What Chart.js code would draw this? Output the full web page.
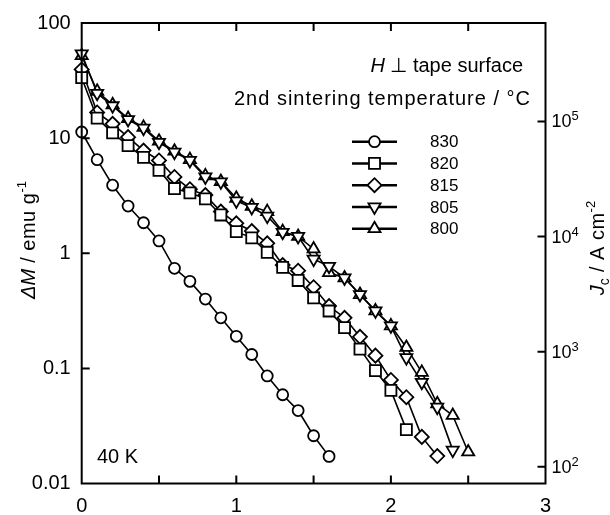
<!DOCTYPE html>
<html>
<head>
<meta charset="utf-8">
<script src="https://cdn.jsdelivr.net/npm/chart.js@4.4.1/dist/chart.umd.min.js"></script>
<style>
  html, body { margin: 0; padding: 0; background: #fff; }
  #wrap { width: 610px; height: 515px; }
</style>
</head>
<body>
<div id="wrap"><canvas id="grafico" width="610" height="515"></canvas></div>
<script>
// campo aplicado (eje x), pasos de 0.1
const campo = [0, 0.1, 0.2, 0.3, 0.4, 0.5, 0.6, 0.7, 0.8, 0.9, 1.0, 1.1, 1.2,
  1.3, 1.4, 1.5, 1.6, 1.7, 1.8, 1.9, 2.0, 2.1, 2.2, 2.3, 2.4, 2.5];

// ΔM (emu/g) para cada temperatura de 2do sinterizado
const dm830 = [11.3, 6.5, 3.9, 2.57, 1.84, 1.28, 0.74, 0.57, 0.40, 0.275, 0.19, 0.132,
  0.086, 0.059, 0.043, 0.026, 0.0172];
const dm820 = [33.5, 14.9, 11.1, 8.6, 6.8, 5.25, 3.65, 3.35, 2.97, 2.15, 1.54, 1.36,
  1.02, 0.755, 0.58, 0.41, 0.315, 0.226, 0.147, 0.0955, 0.0643, 0.0294];
const dm815 = [39.5, 16.7, 13.3, 10.2, 7.8, 6.4, 4.6, 3.6, 3.2, 2.3, 1.82, 1.56,
  1.22, 0.79, 0.706, 0.507, 0.348, 0.275, 0.188, 0.129, 0.0794, 0.0562, 0.0254, 0.0173];
const dm805 = [54, 24.5, 19.1, 14.5, 12.2, 9.2, 7.55, 6.4, 4.6, 4.17, 2.85, 2.5,
  2.1, 1.52, 1.4, 0.89, 0.77, 0.61, 0.438, 0.316, 0.234, 0.124, 0.0757, 0.046, 0.0195];
const dm800 = [52, 25.5, 19.5, 14.8, 12.4, 9.4, 7.7, 6.5, 4.7, 4.2, 3.0, 2.56,
  2.3, 1.54, 1.4, 1.09, 0.68, 0.61, 0.438, 0.316, 0.234, 0.152, 0.0924, 0.0493, 0.039, 0.0188];

const etiquetas = ['830', '820', '815', '805', '800'];

// ejes
const xTicks = [0, 1, 2, 3];
const xTicksMarcas = [0.5, 1, 1.5, 2, 2.5];
const yTicks = [0.01, 0.1, 1, 10, 100];
const yTickLabels = ['0.01', '0.1', '1', '10', '100'];
const jcTicks = [100, 1000, 10000, 100000];
const jcExp = ['2', '3', '4', '5'];
const jcMin = 71.6, jcMax = 716000;

const FONT = '"Liberation Sans", Arial, Helvetica, sans-serif';

function serie(valores) {
  return valores.map((v, i) => ({ x: campo[i], y: v }));
}

function dataset(label, valores, pointStyle, radius, rotation) {
  return {
    label,
    data: serie(valores),
    borderColor: '#000',
    borderWidth: 1.6,
    backgroundColor: '#fff',
    pointStyle,
    pointRadius: radius,
    pointHoverRadius: radius,
    rotation: rotation || 0,
    pointBackgroundColor: '#fff',
    pointBorderColor: '#000',
    pointBorderWidth: 1.8,
    tension: 0,
    fill: false,
    clip: false,
    yAxisID: 'y',
  };
}

// texto compuesto: [{t, size, italic, dy}]
function textoCompuesto(ctx, partes, x, y, align) {
  let total = 0;
  partes.forEach(p => {
    ctx.font = `${p.italic ? 'italic ' : ''}${p.size}px ${FONT}`;
    ctx.letterSpacing = p.ls || '0px';
    p.w = ctx.measureText(p.t).width;
    total += p.w;
  });
  let cx = align === 'center' ? x - total / 2 : align === 'right' ? x - total : x;
  partes.forEach(p => {
    ctx.font = `${p.italic ? 'italic ' : ''}${p.size}px ${FONT}`;
    ctx.letterSpacing = p.ls || '0px';
    ctx.textAlign = 'left';
    ctx.fillText(p.t, cx, y + (p.dy || 0));
    cx += p.w;
  });
  ctx.letterSpacing = '0px';
}

const decorado = {
  id: 'decorado',
  afterDraw(chart) {
    const { ctx, chartArea: a, scales } = chart;
    ctx.save();
    ctx.strokeStyle = '#000';
    ctx.fillStyle = '#000';

    // marco
    ctx.lineWidth = 2;
    ctx.strokeRect(a.left, a.top, a.right - a.left, a.bottom - a.top);

    // marcas hacia adentro
    const tl = 8;
    ctx.beginPath();
    xTicksMarcas.forEach(v => {
      const px = scales.x.getPixelForValue(v);
      ctx.moveTo(px, a.bottom); ctx.lineTo(px, a.bottom - tl);
      ctx.moveTo(px, a.top); ctx.lineTo(px, a.top + tl);
    });
    yTicks.slice(1, -1).forEach(v => {
      const py = scales.y.getPixelForValue(v);
      ctx.moveTo(a.left, py); ctx.lineTo(a.left + tl, py);
    });
    jcTicks.forEach(v => {
      const py = scales.y2.getPixelForValue(v);
      ctx.moveTo(a.right, py); ctx.lineTo(a.right - tl, py);
    });
    ctx.stroke();

    // etiquetas eje derecho 10^n
    ctx.textBaseline = 'middle';
    jcTicks.forEach((v, i) => {
      const py = scales.y2.getPixelForValue(v);
      ctx.font = `18px ${FONT}`;
      ctx.textAlign = 'left';
      ctx.fillText('10', a.right + 6, py + 1);
      const w = ctx.measureText('10').width;
      ctx.font = `13px ${FONT}`;
      ctx.textBaseline = 'alphabetic';
      ctx.fillText(jcExp[i], a.right + 6 + w, py - 1);
      ctx.textBaseline = 'middle';
    });

    // titulo eje izquierdo
    ctx.textBaseline = 'alphabetic';
    ctx.save();
    ctx.translate(35, 240);
    ctx.rotate(-Math.PI / 2);
    textoCompuesto(ctx, [
      { t: 'ΔM', size: 20, italic: true },
      { t: ' / emu g', size: 20, ls: '0.5px' },
      { t: '-1', size: 13, dy: -9 },
    ], 0, 0, 'center');
    ctx.restore();

    // titulo eje derecho
    ctx.save();
    ctx.translate(604, 248);
    ctx.rotate(-Math.PI / 2);
    textoCompuesto(ctx, [
      { t: 'J', size: 20, italic: true },
      { t: 'c', size: 14, dy: 5 },
      { t: ' / A cm', size: 20, ls: '0.5px' },
      { t: '-2', size: 13, dy: -9 },
    ], 0, 0, 'center');
    ctx.restore();

    // anotaciones
    textoCompuesto(ctx, [
      { t: 'H', size: 20, italic: true },
      { t: ' ⊥ tape surface', size: 20 },
    ], 523, 72, 'right');
    textoCompuesto(ctx, [
      { t: '2nd sintering temperature / °C', size: 20, ls: '1px' },
    ], 531, 105, 'right');
    textoCompuesto(ctx, [{ t: '40 K', size: 20 }], 97, 463, 'left');

    // leyenda
    chart.data.datasets.forEach((ds, i) => {
      const y = 141.7 + i * 21.75;
      ctx.lineWidth = 2.5;
      ctx.strokeStyle = '#000';
      ctx.beginPath(); ctx.moveTo(352, y); ctx.lineTo(397, y); ctx.stroke();
      ctx.lineWidth = 1.8;
      ctx.fillStyle = '#fff';
      Chart.helpers.drawPoint(ctx, {
        pointStyle: ds.pointStyle, radius: ds.pointRadius,
        rotation: ds.rotation, borderWidth: 1.8
      }, 374.5, y);
      ctx.fillStyle = '#000';
      ctx.font = `17px ${FONT}`;
      ctx.textAlign = 'left';
      ctx.textBaseline = 'middle';
      ctx.fillText(ds.label, 430, y + 1);
    });

    ctx.restore();
  }
};

new Chart(document.getElementById('grafico').getContext('2d'), {
  type: 'line',
  data: {
    datasets: [
      dataset(etiquetas[0], dm830, 'circle', 5.5),
      dataset(etiquetas[1], dm820, 'rect', 7.8),
      dataset(etiquetas[2], dm815, 'rectRot', 7),
      dataset(etiquetas[3], dm805, 'triangle', 7, 180),
      dataset(etiquetas[4], dm800, 'triangle', 7),
    ]
  },
  options: {
    responsive: false,
    animation: false,
    layout: { padding: { top: 20, left: 0, right: 0, bottom: 0 } },
    plugins: { legend: { display: false }, tooltip: { enabled: false } },
    scales: {
      x: {
        type: 'linear',
        min: 0, max: 3,
        afterBuildTicks: s => { s.ticks = xTicks.map(v => ({ value: v })); },
        afterFit: s => { s.height = 31.5; },
        ticks: { color: '#000', font: { family: FONT, size: 20 }, padding: 11, maxRotation: 0 },
        grid: { display: false, drawTicks: false },
        border: { display: false },
      },
      y: {
        type: 'logarithmic',
        position: 'left',
        min: 0.01, max: 100,
        afterBuildTicks: s => { s.ticks = yTicks.map(v => ({ value: v })); },
        afterFit: s => { s.width = 81.7; },
        ticks: {
          color: '#000', font: { family: FONT, size: 20 }, padding: 11,
          callback: v => yTickLabels[yTicks.indexOf(v)] ?? ''
        },
        grid: { display: false, drawTicks: false },
        border: { display: false },
      },
      y2: {
        type: 'logarithmic',
        position: 'right',
        min: jcMin, max: jcMax,
        afterFit: s => { s.width = 64.5; },
        ticks: { display: false },
        grid: { display: false, drawTicks: false },
        border: { display: false },
      }
    }
  },
  plugins: [decorado]
});
</script>
</body>
</html>
